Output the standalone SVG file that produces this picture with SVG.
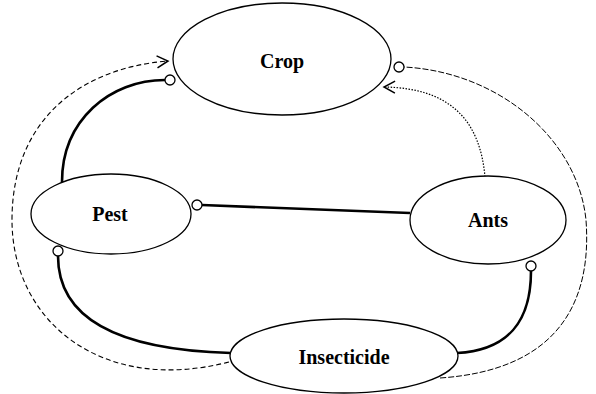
<svg xmlns="http://www.w3.org/2000/svg" width="596" height="394" viewBox="0 0 596 394">
<style>
.node ellipse{fill:#fff;stroke:#000;stroke-width:1.3}
.node text{font-family:"Liberation Serif",serif;font-weight:bold;font-size:20px;text-anchor:middle;dominant-baseline:central;fill:#000}
.thick{fill:none;stroke:#000;stroke-width:2.6}
.dash{fill:none;stroke:#000;stroke-width:1.1;stroke-dasharray:5,3}
.fine{fill:none;stroke:#000;stroke-width:1;stroke-dasharray:6,2}
.dot{fill:none;stroke:#000;stroke-width:1.2;stroke-dasharray:1.5,1.5}
.ring{fill:#fff;stroke:#000;stroke-width:1.3}
</style>
<defs>
<marker id="arr" markerWidth="16" markerHeight="16" refX="12" refY="7" orient="auto" markerUnits="userSpaceOnUse">
<path d="M1,1 L12,7 L1,13" fill="none" stroke="#000" stroke-width="1.5"/>
</marker>
</defs>
<g id="connectors">
<path class="dash" d="M229,362 C100,395 12,320 12,220 C12,120 80,68 168,61" marker-end="url(#arr)"/>
<path class="fine" d="M440,378 C560,370 592,300 586,220 C578,140 500,72 404,67"/>
<path class="dot" d="M485,177 C480,120 450,88 384,87" marker-end="url(#arr)"/>
<path class="thick" d="M62,182 C62,120 110,80 165,80"/>
<path class="thick" d="M202,205 L410,213"/>
<path class="thick" d="M58,256 C58,320 120,350 231,353"/>
<path class="thick" d="M457,353 C510,350 531,320 531,271"/>
</g>
<g id="crop" class="node"><ellipse cx="282" cy="59" rx="109" ry="56"/><text x="282" y="61">Crop</text></g>
<g id="pest" class="node"><ellipse cx="111" cy="214" rx="80" ry="40"/><text x="110" y="214">Pest</text></g>
<g id="ants" class="node"><ellipse cx="488" cy="220" rx="78" ry="44"/><text x="488" y="220">Ants</text></g>
<g id="insecticide" class="node"><ellipse cx="344" cy="356" rx="114" ry="37"/><text x="344" y="357">Insecticide</text></g>
<g id="rings">
<circle class="ring" cx="170" cy="80" r="5"/>
<circle class="ring" cx="197" cy="205" r="5"/>
<circle class="ring" cx="58" cy="251" r="5"/>
<circle class="ring" cx="531" cy="266" r="5"/>
<circle class="ring" cx="399" cy="67" r="5"/>
</g>
</svg>
